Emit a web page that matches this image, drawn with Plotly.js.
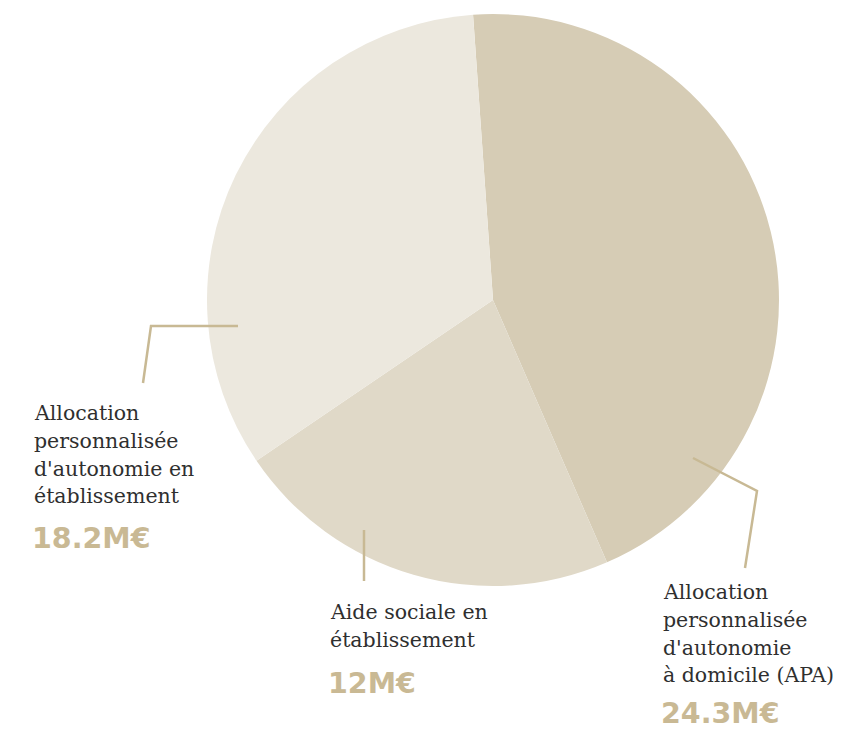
<!DOCTYPE html>
<html>
<head>
<meta charset="utf-8">
<script src="https://cdn.plot.ly/plotly-3.0.1.min.js"></script>
<style>html,body{margin:0;padding:0;background:#fff;}#chart{width:843px;height:730px;}</style>
</head>
<body>
<div id="chart"></div>
<script>
// Data
var categories = ["Allocation personnalisée d'autonomie à domicile (APA)", "Aide sociale en établissement", "Allocation personnalisée d'autonomie en établissement"];
var values = [24.3, 12, 18.2];
var valueLabels = ["24.3M€", "12M€", "18.2M€"];
var labelLines = [
  ["Allocation", "personnalisée", "d'autonomie", "à domicile (APA)"],
  ["Aide sociale en", "établissement"],
  ["Allocation", "personnalisée", "d'autonomie en", "établissement"]
];
var colors = ["#d6ccb5", "#e0d9c8", "#ece8de"];

var W = 843, H = 730;
function px(x){ return x / W; }
function py(y){ return 1 - y / H; }

// label layout (pixel positions of the text blocks)
var labelPos = [
  {x: 661, y0: 592, vy: 713},
  {x: 328, y0: 612, vy: 683},
  {x: 32,  y0: 413, vy: 538}
];
var lineGap = 27.8;

var annotations = [];
labelLines.forEach(function(lines, i){
  var p = labelPos[i];
  lines.forEach(function(t, j){
    annotations.push({
      xref: 'paper', yref: 'paper', x: px(p.x), y: py(p.y0 + j*lineGap),
      xanchor: 'left', yanchor: 'middle', showarrow: false, text: t,
      font: {family: 'DejaVu Serif', size: 20.5, color: '#2f2f2f'}
    });
  });
  annotations.push({
    xref: 'paper', yref: 'paper', x: px(p.x - 2), y: py(p.vy),
    xanchor: 'left', yanchor: 'middle', showarrow: false, text: '<b>' + valueLabels[i] + '</b>',
    font: {family: 'DejaVu Sans', size: 28.5, color: '#c9b994'}
  });
});

function pathPx(pts){
  return pts.map(function(p, k){ return (k ? 'L' : 'M') + px(p[0]) + ',' + py(p[1]); }).join(' ');
}
var lineStyle = {color: '#c8b994', width: 2.5};
var shapes = [
  {type: 'path', xref: 'paper', yref: 'paper', path: pathPx([[693,458],[757,491],[745,568]]), line: lineStyle},
  {type: 'path', xref: 'paper', yref: 'paper', path: pathPx([[364,530],[364,581]]), line: lineStyle},
  {type: 'path', xref: 'paper', yref: 'paper', path: pathPx([[238,326],[151,326],[143,383]]), line: lineStyle}
];

var cx = 493, cy = 300, r = 286;
var data = [{
  type: 'pie',
  labels: categories,
  values: values,
  sort: false,
  direction: 'clockwise',
  rotation: -4,
  marker: {colors: colors, line: {width: 0}},
  textinfo: 'none',
  hoverinfo: 'label+value',
  showlegend: false,
  domain: {x: [px(cx - r), px(cx + r)], y: [py(cy + r), py(cy - r)]}
}];

var layout = {
  width: W, height: H,
  margin: {l: 0, r: 0, t: 0, b: 0},
  paper_bgcolor: '#ffffff',
  showlegend: false,
  annotations: annotations,
  shapes: shapes
};

Plotly.newPlot('chart', data, layout, {displayModeBar: false, staticPlot: true});
</script>
</body>
</html>
